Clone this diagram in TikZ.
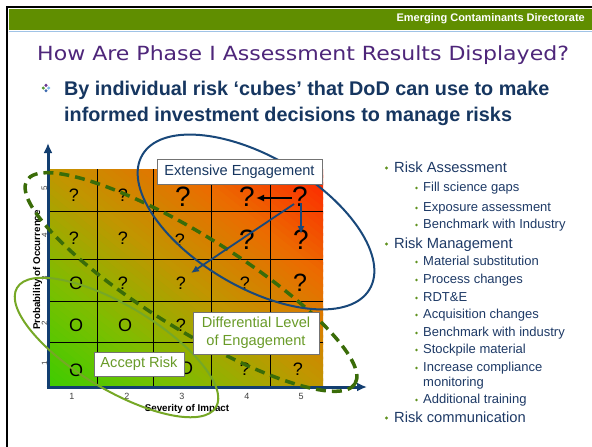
\documentclass[tikz,border=0pt]{standalone}
\usepackage{fontspec}
\setmainfont{Liberation Sans}
\newfontfamily\titlefont[FakeStretch=1.13]{DejaVu Sans}
\usetikzlibrary{arrows.meta}

\definecolor{hdrgreen}{RGB}{96,142,0}
\definecolor{hdrline}{RGB}{160,195,230}
\definecolor{titlepurple}{RGB}{78,38,122}
\definecolor{navytxt}{RGB}{22,54,96}
\definecolor{axisblue}{RGB}{18,62,112}
\definecolor{ellblue}{RGB}{25,72,122}
\definecolor{dashgreen}{RGB}{58,108,8}
\definecolor{ellgreen}{RGB}{118,168,38}
\definecolor{boxgreentxt}{RGB}{105,155,40}
\definecolor{listtxt}{RGB}{30,58,102}
\definecolor{dotgreen}{RGB}{95,145,30}
\definecolor{gc0}{RGB}{60,205,0}
\definecolor{gc1}{RGB}{125,190,0}
\definecolor{gc2}{RGB}{192,150,0}
\definecolor{gc3}{RGB}{235,108,0}
\definecolor{gc4}{RGB}{255,35,0}
\definecolor{icpurple}{RGB}{105,55,145}
\definecolor{icgreen}{RGB}{85,150,55}
\definecolor{icblue}{RGB}{60,105,175}
\definecolor{iclight}{RGB}{125,185,230}

\tikzset{
  sq/.style={inner sep=0, font=\fontsize{18}{18}\selectfont},
  bq/.style={inner sep=0, font=\fontsize{28}{28}\selectfont},
  lbl/.style={draw=black!55, fill=white, line width=0.8pt, inner sep=0, align=center, font=\fontsize{14.6}{18}\selectfont},
  lone/.style={anchor=base west, inner sep=0, text=listtxt, font=\fontsize{14.7}{17}\selectfont},
  ltwo/.style={anchor=base west, inner sep=0, text=listtxt, font=\fontsize{13}{15}\selectfont},
  axisline/.style={draw=axisblue, line width=3pt, -{Latex[length=10pt,width=9pt]}},
  innerarrow/.style={line width=1.8pt, -{Latex[length=8pt,width=7pt]}},
  tickx/.style={inner sep=0, text=black!75, font=\fontsize{9}{9}\selectfont},
  ticky/.style={inner sep=0, text=black!75, rotate=90, font=\fontsize{8}{8}\selectfont},
  axlabel/.style={inner sep=0, font=\bfseries\fontsize{9.8}{10}\selectfont}
}

\begin{document}
\begin{tikzpicture}[x=1pt,y=-1pt]
\fill[white,use as bounding box] (0,0) rectangle (592,447);

% frame and header
\draw[line width=2pt] (7,447) -- (7,7) -- (592,7);
\fill[hdrgreen] (9,8.5) rectangle (592,29.5);
\draw[hdrline, line width=1pt] (9,31) -- (592,31);
\node[anchor=east, inner sep=0, text=white, font=\bfseries\fontsize{11}{11}\selectfont] (hdr) at (585,19) {Emerging Contaminants Directorate};

% title
\node[anchor=base west, inner sep=0, text=titlepurple, font=\titlefont\fontsize{19.5}{22}\selectfont] (title) at (37,60) {How Are Phase I Assessment Results Displayed?};

% bullet icon
\fill[icpurple] (46,85.3) circle (1.7pt);
\fill[icgreen] (43.3,88) circle (1.7pt);
\fill[iclight] (48.7,88) circle (1.7pt);
\fill[icblue] (46,90.7) circle (1.7pt);
\node[anchor=base west, inner sep=0, text=navytxt, font=\bfseries\fontsize{19.8}{24}\selectfont] (b1) at (64,95.5) {By individual risk ‘cubes’ that DoD can use to make};
\node[anchor=base west, inner sep=0, text=navytxt, font=\bfseries\fontsize{19.8}{24}\selectfont] (b2) at (64,121) {informed investment decisions to manage risks};

% gradient grid
\begin{scope}
\clip (48,169) rectangle (323,387);
\foreach \k in {0,...,59}{
  \pgfmathsetmacro\sa{2*\k/60-0.006}
  \pgfmathsetmacro\sb{2*(\k+1)/60+0.006}
  \pgfmathsetmacro\tv{(\k+0.5)/60}
  \pgfmathtruncatemacro\seg{min(3,floor(\tv*4))}
  \pgfmathsetmacro\pc{100*(\tv*4-\seg)}
  \ifcase\seg\colorlet{cc}{gc1!\pc!gc0}\or\colorlet{cc}{gc2!\pc!gc1}\or\colorlet{cc}{gc3!\pc!gc2}\else\colorlet{cc}{gc4!\pc!gc3}\fi
  \fill[cc] ({48+(\sa+1)*275},605) -- ({48+(\sb+1)*275},605) -- (-227,{387-(\sb+1)*218}) -- (-227,{387-(\sa+1)*218}) -- cycle;
}
\end{scope}
\foreach \gx in {97,153,211,270}{\draw[line width=0.7pt] (\gx,169) -- (\gx,387);}
\foreach \gy in {211,259,301,342}{\draw[line width=0.7pt] (48,\gy) -- (323,\gy);}

% cell contents
\node[sq] (c51) at (74,195) {?};
\node[sq] (c52) at (123,195) {?};
\node[bq] (c53) at (183,197) {?};
\node[bq] (c54) at (247,197) {?};
\node[bq] (c55) at (300,197) {?};
\node[sq] (c41) at (74,238) {?};
\node[sq] (c42) at (123,238) {?};
\node[sq] (c43) at (180,240) {?};
\node[bq] (c44) at (247,240) {?};
\node[bq] (c45) at (301,240) {?};
\node[sq] (c31) at (76,283) {O};
\node[sq] (c32) at (123,283) {?};
\node[sq] (c33) at (181,283) {?};
\node[sq] (c34) at (245,283) {?};
\node[bq,font=\fontsize{25}{25}\selectfont] (c35) at (300,283) {?};
\node[sq] (c21) at (76,325) {O};
\node[sq] (c22) at (125,325) {O};
\node[sq] (c23) at (181,325) {?};
\node[sq] (c11) at (76,370) {O};
\node[sq] (c13) at (186,368) {O};
\node[sq] (c14) at (245,369) {?};
\node[sq] (c15) at (298,369) {?};

% axes
\node[ticky] (ty5) at (44.5,188) {5};
\node[ticky] (ty4) at (44.5,235) {4};
\node[ticky] (ty3) at (44.5,278) {3};
\node[ticky] (ty2) at (44.5,323) {2};
\node[ticky] (ty1) at (44.5,363) {1};
\coordinate (orig) at (48,387);
\coordinate (origx) at (46.5,387);
\coordinate (ytop) at (48,143);
\coordinate (xend) at (367,387);
\draw[axisline] (orig) -- (ytop);
\draw[axisline] (origx) -- (xend);
\node[tickx] (tx1) at (72,396) {1};
\node[tickx] (tx2) at (127,396) {2};
\node[tickx] (tx3) at (182,396) {3};
\node[tickx] (tx4) at (247,396) {4};
\node[tickx] (tx5) at (301,396) {5};
\node[axlabel] (xlab) at (187,409) {Severity of Impact};
\node[axlabel, rotate=90] (ylab) at (37.5,270) {Probability of Occurrence};

% ellipses
\draw[dashgreen, line width=3.5pt, dash pattern=on 10pt off 6pt, rotate around={-31.8:(191,282)}] (191,282) ellipse [x radius=193pt, y radius=47pt];
\draw[ellblue, line width=2pt, rotate around={-30.6:(256,222)}] (256,222) ellipse [x radius=132pt, y radius=65pt];
\draw[ellgreen, line width=2pt, rotate around={-31:(116.5,347.5)}] (116.5,347.5) ellipse [x radius=116pt, y radius=42pt];

% inner arrows
\coordinate (h0) at (292,198);
\coordinate (h1) at (256,198);
\coordinate (v0) at (301,203);
\coordinate (v1) at (301,234);
\coordinate (d0) at (294,204);
\coordinate (d1) at (191,273);
\draw[innerarrow, black] (h0) -- (h1);
\draw[innerarrow, ellblue] (v0) -- (v1);
\draw[innerarrow, ellblue] (d0) -- (d1);

% label boxes
\node[lbl, text=navytxt, minimum width=165pt, minimum height=25pt] (ext) at (239.5,171.5) {Extensive Engagement};
\node[lbl, text=boxgreentxt, minimum width=90pt, minimum height=24pt] (acc) at (139,364) {Accept Risk};
\node[lbl, text=boxgreentxt, minimum width=126pt, minimum height=42pt] (dif) at (256,333) {Differential Level\\of Engagement};

% right list
\fill[dotgreen] (386.5,168) circle (1.6pt);
\node[lone] (r1) at (394,172) {Risk Assessment};
\fill[dotgreen] (416.5,188) circle (1.4pt);
\node[ltwo] (r11) at (423,191.5) {Fill science gaps};
\fill[dotgreen] (416.5,208) circle (1.4pt);
\node[ltwo] (r12) at (423,211.5) {Exposure assessment};
\fill[dotgreen] (416.5,225) circle (1.4pt);
\node[ltwo] (r13) at (423,228.5) {Benchmark with Industry};
\fill[dotgreen] (386.5,244) circle (1.6pt);
\node[lone] (r2) at (394,248) {Risk Management};
\fill[dotgreen] (416.5,262) circle (1.4pt);
\node[ltwo] (r21) at (423,265.5) {Material substitution};
\fill[dotgreen] (416.5,280) circle (1.4pt);
\node[ltwo] (r22) at (423,283.5) {Process changes};
\fill[dotgreen] (416.5,298) circle (1.4pt);
\node[ltwo] (r23) at (423,301.5) {RDT\&E};
\fill[dotgreen] (416.5,315) circle (1.4pt);
\node[ltwo] (r24) at (423,318.5) {Acquisition changes};
\fill[dotgreen] (416.5,333) circle (1.4pt);
\node[ltwo] (r25) at (423,336.5) {Benchmark with industry};
\fill[dotgreen] (416.5,350) circle (1.4pt);
\node[ltwo] (r26) at (423,353.5) {Stockpile material};
\fill[dotgreen] (416.5,368) circle (1.4pt);
\node[ltwo] (r27) at (423,371.5) {Increase compliance};
\node[ltwo] (r27b) at (423,386.5) {monitoring};
\fill[dotgreen] (416.5,400) circle (1.4pt);
\node[ltwo] (r28) at (423,403.5) {Additional training};
\fill[dotgreen] (386.5,418) circle (1.6pt);
\node[lone] (r3) at (394,422) {Risk communication};
\end{tikzpicture}
\end{document}
